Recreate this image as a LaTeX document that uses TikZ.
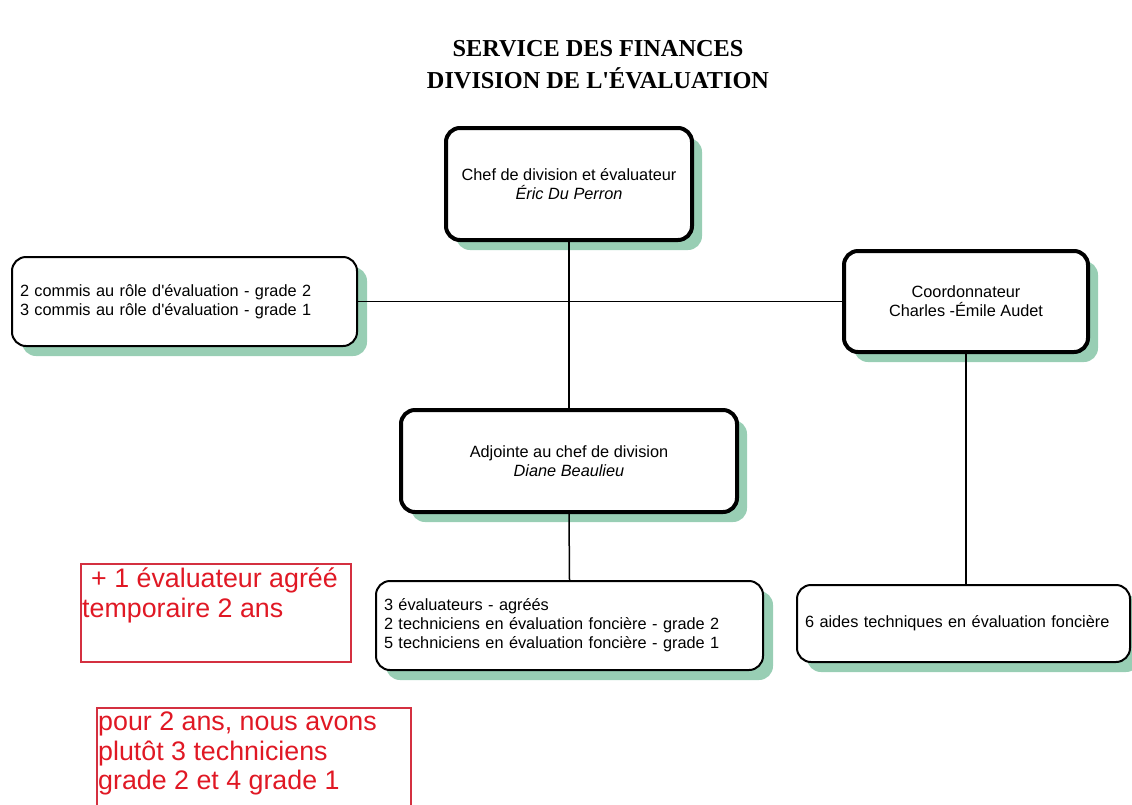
\documentclass[tikz,border=0pt]{standalone}
\usepackage{fontspec}
\setmainfont{Liberation Serif}[Ligatures=TeXOff]
\setsansfont{Liberation Sans}[Ligatures=TeXOff]
\usetikzlibrary{positioning,shadows}
\definecolor{shadowgreen}{RGB}{152,206,180}
\definecolor{notered}{RGB}{224,24,36}
\definecolor{noteline}{RGB}{212,48,64}

\begin{document}
\begin{tikzpicture}[x=1pt,y=-1pt,
  unitbox/.style={draw,fill=white,rounded corners=14pt,line width=2pt,
    font=\sffamily\fontsize{16.3}{19}\selectfont,
    drop shadow={shadow xshift=10pt,shadow yshift=-10pt,fill=shadowgreen,opacity=1}},
  headbox/.style={unitbox,line width=4pt,align=center},
  listbox/.style={unitbox,align=left,inner xsep=8pt},
  notebox/.style={draw=noteline,line width=1.6pt,inner sep=0pt},
  notetext/.style={text=notered,align=left,inner sep=2pt,yshift=-3pt,
    font=\sffamily\fontsize{26.8}{29.5}\selectfont}]

\useasboundingbox (0,0) rectangle (1132,804);

% Title
\node[font=\bfseries\fontsize{24.3}{32}\selectfont,align=center] (title) at (598,65)
  {SERVICE DES FINANCES\\DIVISION DE L'ÉVALUATION};

% Units
\node[headbox,minimum width=246pt,minimum height=112pt] (chef) at (569,184)
  {Chef de division et évaluateur\\\textit{Éric Du Perron}};
\node[listbox,text width=329pt,minimum height=89pt] (commis) at (184.5,301.5)
  {2 commis au rôle d'évaluation - grade 2\\3 commis au rôle d'évaluation - grade 1};
\node[headbox,minimum width=244pt,minimum height=101pt] (coord) at (966,301.5)
  {Coordonnateur\\Charles -Émile Audet};
\node[headbox,minimum width=336pt,minimum height=102pt] (adjointe) at (569,461)
  {Adjointe au chef de division\\\textit{Diane Beaulieu}};
\node[listbox,text width=371pt,minimum height=89pt] (evals) at (569.5,625.5)
  {3 évaluateurs - agréés\\2 techniciens en évaluation foncière - grade 2\\5 techniciens en évaluation foncière - grade 1};
\node[listbox,text width=317pt,minimum height=77pt] (aides) at (963.5,623.5)
  {6 aides techniques en évaluation foncière};

% Links
\draw[line width=1.5pt] (chef.south) -- (adjointe.north);
\draw[line width=1.5pt] (commis.east) -- (coord.west);
\draw[line width=1.5pt] (adjointe.south) -- (evals.north);
\draw[line width=1.5pt] (coord.south) -- (coord.south |- aides.north);

% Red notes
\node[notebox,minimum width=270pt,minimum height=98pt,anchor=north west] (note1) at (80,563) {};
\node[notetext,anchor=north west] (note1txt) at (note1.north west)
  {\hspace*{9pt}+ 1 évaluateur agréé\\temporaire 2 ans};
\node[notebox,minimum width=314pt,minimum height=130pt,anchor=north west] (note2) at (96,707) {};
\node[notetext,anchor=north west] (note2txt) at (note2.north west)
  {pour 2 ans, nous avons\\plutôt 3 techniciens\\grade 2 et 4 grade 1};
\end{tikzpicture}
\end{document}
